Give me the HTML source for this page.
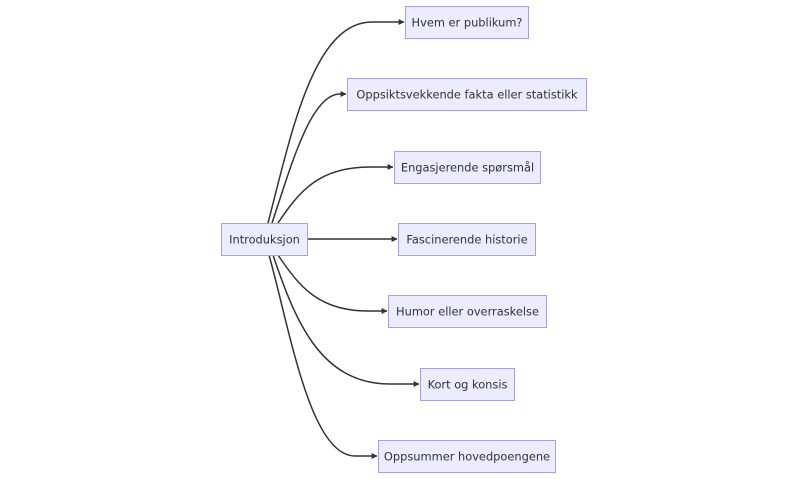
<!DOCTYPE html>
<html><head><meta charset="utf-8"><style>
html,body{margin:0;padding:0;background:#fff;}
svg{display:block;}
text{font-family:"DejaVu Sans","Liberation Sans",sans-serif;font-size:11.4px;fill:#333;}
</style></head><body>
<svg width="808" height="479" viewBox="0 0 808 479" xmlns="http://www.w3.org/2000/svg">
<defs>
<marker id="ah" viewBox="0 0 10 10" refX="9" refY="5" markerWidth="6" markerHeight="6" markerUnits="userSpaceOnUse" orient="auto">
<path d="M0,0 L10,5 L0,10 z" fill="#333"/>
</marker>
</defs>
<g fill="none" stroke="#333" stroke-width="1.5">
<path d="M268 223 C291 135, 313 22, 372 22 L404 22" marker-end="url(#ah)"/>
<path d="M272 223 C290 170, 310 94, 340 94 L346 94" marker-end="url(#ah)"/>
<path d="M278 223 C300 190, 320 167, 370 167 L393 167" marker-end="url(#ah)"/>
<path d="M307 239 L397 239" marker-end="url(#ah)"/>
<path d="M278 255 C300 288, 320 311, 368 311 L387 311" marker-end="url(#ah)"/>
<path d="M273 255 C295 320, 320 384, 390 384 L419 384" marker-end="url(#ah)"/>
<path d="M269 255 C290 330, 310 456, 355 456 L377 456" marker-end="url(#ah)"/>
</g>
<g fill="#ECECFF" stroke="#a99ee3" stroke-width="1">
<rect x="405.5" y="6.5" width="123" height="32"/>
<rect x="347.5" y="78.5" width="239" height="32"/>
<rect x="394.5" y="151.5" width="146" height="32"/>
<rect x="221.5" y="223.5" width="86" height="32"/>
<rect x="398.5" y="223.5" width="137" height="32"/>
<rect x="388.5" y="295.5" width="158" height="32"/>
<rect x="420.5" y="368.5" width="94" height="32"/>
<rect x="378.5" y="440.5" width="177" height="32"/>
</g>
<g text-anchor="middle" dominant-baseline="central">
<text x="467" y="22.5">Hvem er publikum?</text>
<text x="467" y="94.5">Oppsiktsvekkende fakta eller statistikk</text>
<text x="467.5" y="167.5">Engasjerende spørsmål</text>
<text x="264.5" y="239.5">Introduksjon</text>
<text x="467" y="239.5">Fascinerende historie</text>
<text x="467.5" y="311.5">Humor eller overraskelse</text>
<text x="467.5" y="384.5">Kort og konsis</text>
<text x="467" y="456.5">Oppsummer hovedpoengene</text>
</g>
</svg>
</body></html>
